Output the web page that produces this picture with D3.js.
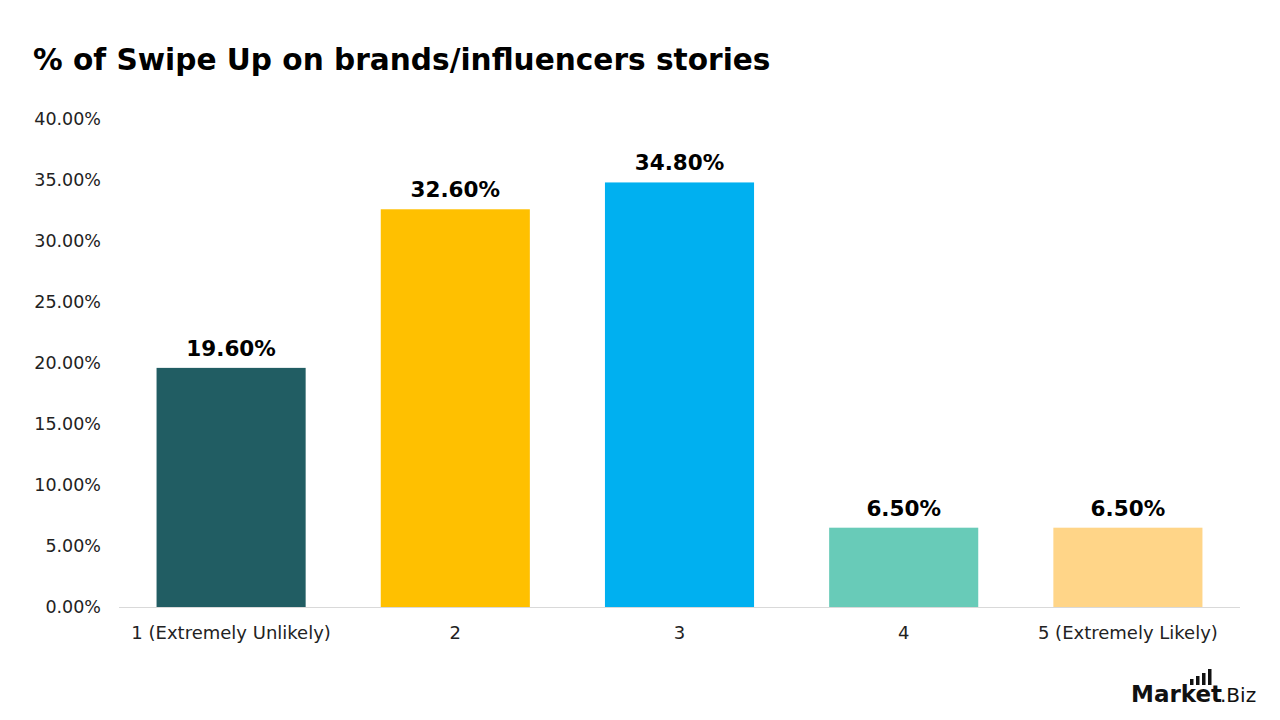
<!DOCTYPE html>
<html><head><meta charset="utf-8">
<script src="https://cdn.jsdelivr.net/npm/d3@7"></script>
<style>body{margin:0;background:#fff}svg{display:block}text{font-family:"DejaVu Sans",sans-serif}</style>
</head><body>
<svg id="c" width="1280" height="720"></svg>
<script>
const categories = ["1 (Extremely Unlikely)", "2", "3", "4", "5 (Extremely Likely)"];
const values = [19.6, 32.6, 34.8, 6.5, 6.5];
const colors = ["#215D63", "#FFC000", "#00B0F0", "#68CBB8", "#FFD588"];
const yTicks = [0, 5, 10, 15, 20, 25, 30, 35, 40];
const title = "% of Swipe Up on brands/influencers stories";

const svg = d3.select("#c");
const x = d3.scaleBand().domain(categories).range([119, 1240]).paddingInner(0.335).paddingOuter(0.1675);
const y = d3.scaleLinear().domain([0, 40]).range([607, 119]);

svg.append("text").attr("x", 33).attr("y", 70).attr("font-size", 29.6).attr("font-weight", 700)
  .attr("fill", "#000").text(title);

// y tick labels
svg.append("g").selectAll("text").data(yTicks).join("text")
  .attr("x", 101).attr("y", d => y(d)).attr("dy", "0.35em").attr("text-anchor", "end")
  .attr("font-size", 17.5).attr("fill", "#222").text(d => d.toFixed(2) + "%");

// bars
svg.append("g").selectAll("rect").data(values).join("rect")
  .attr("x", (d, i) => x(categories[i])).attr("width", x.bandwidth())
  .attr("y", d => y(d)).attr("height", d => y(0) - y(d))
  .attr("fill", (d, i) => colors[i]);

// axis line
svg.append("line").attr("x1", 119).attr("x2", 1240).attr("y1", y(0) + 0.5).attr("y2", y(0) + 0.5)
  .attr("stroke", "#d9d9d9").attr("stroke-width", 1);

// value labels
svg.append("g").selectAll("text").data(values).join("text")
  .attr("x", (d, i) => x(categories[i]) + x.bandwidth() / 2).attr("y", d => y(d) - 12)
  .attr("text-anchor", "middle").attr("font-size", 21.5).attr("font-weight", 700).attr("fill", "#000")
  .text(d => d.toFixed(2) + "%");

// category labels
svg.append("g").selectAll("text").data(categories).join("text")
  .attr("x", d => x(d) + x.bandwidth() / 2).attr("y", 633).attr("dy", "0.35em")
  .attr("text-anchor", "middle").attr("font-size", 18).attr("fill", "#222").text(d => d);

// logo
const logo = svg.append("g");
logo.append("text").attr("x", 1131).attr("y", 702).attr("font-size", 23).attr("font-weight", 700)
  .attr("fill", "#111").text("Market");
logo.append("text").attr("x", 1220).attr("y", 702).attr("font-size", 20).attr("fill", "#111").text(".Biz");
const logoBars = [6, 9, 12, 16];
logo.selectAll("rect").data(logoBars).join("rect")
  .attr("x", (d, i) => 1190 + i * 6).attr("y", d => 685 - d).attr("width", 3.5).attr("height", d => d)
  .attr("fill", "#111");
</script>
</body></html>
